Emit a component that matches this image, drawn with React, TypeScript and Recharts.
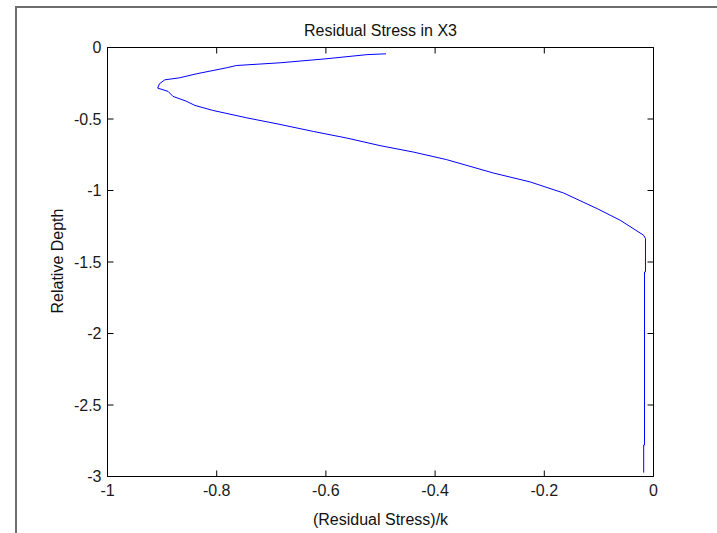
import { LineChart, Line, XAxis, YAxis } from 'recharts'

// residual stress profile (top of the curve first)
const stress = [
    -0.49, -0.525, -0.6, -0.684, -0.764, -0.782, -0.837, -0.868, -0.895, -0.905, -0.908, -0.889, -0.88, -0.856,
    -0.84, -0.807, -0.746, -0.684, -0.623, -0.562, -0.501, -0.44, -0.379, -0.293, -0.226, -0.165, -0.103, -0.061,
    -0.018, -0.0147, -0.0147, -0.0165, -0.0165, -0.018, -0.018,
]
const depth = [
    -0.044, -0.05, -0.079, -0.107, -0.126, -0.142, -0.184, -0.212, -0.226, -0.254, -0.284, -0.307, -0.342, -0.375,
    -0.405, -0.44, -0.491, -0.538, -0.587, -0.633, -0.686, -0.731, -0.784, -0.878, -0.94, -1.017, -1.127, -1.208,
    -1.313, -1.336, -1.569, -1.57, -2.78, -2.78, -2.973,
]
const xTicks = [-1, -0.8, -0.6, -0.4, -0.2, 0]
const yTicks = [0, -0.5, -1, -1.5, -2, -2.5, -3]

const data = stress.map((s, i) => ({ stress: s, depth: depth[i] }))

const font = '"Liberation Sans", Arial, sans-serif'
const TICK = 6
const GAP_X = 8
const GAP_Y = 6

// matlab style: tick marks point into the axes box, labels sit outside
function BottomTick({ x, y, payload }: any) {
    const axisY = y - GAP_X
    return (
        <g>
            <line x1={x} x2={x} y1={axisY} y2={axisY - TICK} stroke="#000" />
            <text x={x} y={y} dy="0.71em" textAnchor="middle" fill="#1a1a1a" fontSize={16} fontFamily={font}>
                {String(payload.value)}
            </text>
        </g>
    )
}

function LeftTick({ x, y, payload }: any) {
    const axisX = x + GAP_Y
    return (
        <g>
            <line x1={axisX} x2={axisX + TICK} y1={y} y2={y} stroke="#000" />
            <text x={x} y={y} dy="0.355em" textAnchor="end" fill="#1a1a1a" fontSize={16} fontFamily={font}>
                {String(payload.value)}
            </text>
        </g>
    )
}

function TopTick({ x, y }: any) {
    return <line x1={x} x2={x} y1={y} y2={y + TICK} stroke="#000" />
}

function RightTick({ x, y }: any) {
    return <line x1={x} x2={x - TICK} y1={y} y2={y} stroke="#000" />
}

export default function App() {
    return (
        <div style={{ position: 'fixed', left: 0, top: 0, width: 717, height: 533, background: '#fff', fontFamily: font }}>
            {/* figure frame, only top and left edges show */}
            <div style={{ position: 'absolute', left: 15, top: 6, right: 0, height: 0, borderTop: '2px solid #6e6e6e' }} />
            <div style={{ position: 'absolute', left: 15, top: 6, bottom: 0, width: 0, borderLeft: '2px solid #6e6e6e' }} />

            <div style={{ position: 'absolute', left: 0, top: 0 }}>
                <LineChart width={717} height={533} data={data} margin={{ top: 46.5, right: 62.5, bottom: 26.5, left: 47.5 }}>
                    <XAxis
                        type="number"
                        dataKey="stress"
                        domain={[-1, 0]}
                        ticks={xTicks}
                        allowDataOverflow
                        height={30}
                        tickSize={0}
                        tickMargin={GAP_X}
                        tickLine={false}
                        tick={<BottomTick />}
                        axisLine={{ stroke: '#000' }}
                        interval={0}
                    />
                    <XAxis
                        xAxisId="top"
                        orientation="top"
                        type="number"
                        dataKey="stress"
                        domain={[-1, 0]}
                        ticks={xTicks}
                        allowDataOverflow
                        height={1}
                        tickSize={0}
                        tickMargin={0}
                        tickLine={false}
                        tick={<TopTick />}
                        axisLine={{ stroke: '#000' }}
                        interval={0}
                    />
                    <YAxis
                        type="number"
                        domain={[-3, 0]}
                        ticks={yTicks}
                        allowDataOverflow
                        width={60}
                        tickSize={0}
                        tickMargin={GAP_Y}
                        tickLine={false}
                        tick={<LeftTick />}
                        axisLine={{ stroke: '#000' }}
                        interval={0}
                    />
                    <YAxis
                        yAxisId="right"
                        orientation="right"
                        type="number"
                        domain={[-3, 0]}
                        ticks={yTicks}
                        allowDataOverflow
                        width={1}
                        tickSize={0}
                        tickMargin={0}
                        tickLine={false}
                        tick={<RightTick />}
                        axisLine={{ stroke: '#000' }}
                        interval={0}
                    />
                    <Line
                        type="linear"
                        dataKey="depth"
                        stroke="#0000ff"
                        strokeWidth={1}
                        dot={false}
                        isAnimationActive={false}
                    />
                </LineChart>
            </div>

            <div style={{ position: 'absolute', left: 108, width: 545, top: 22, textAlign: 'center', fontSize: 16, color: '#111' }}>
                Residual Stress in X3
            </div>
            <div style={{ position: 'absolute', left: 108, width: 545, top: 511, textAlign: 'center', fontSize: 16, color: '#111' }}>
                (Residual Stress)/k
            </div>
            <div
                style={{
                    position: 'absolute',
                    left: 58,
                    top: 261,
                    transform: 'translate(-50%, -50%) rotate(-90deg)',
                    whiteSpace: 'nowrap',
                    fontSize: 16,
                    color: '#111',
                }}
            >
                Relative Depth
            </div>
        </div>
    )
}
